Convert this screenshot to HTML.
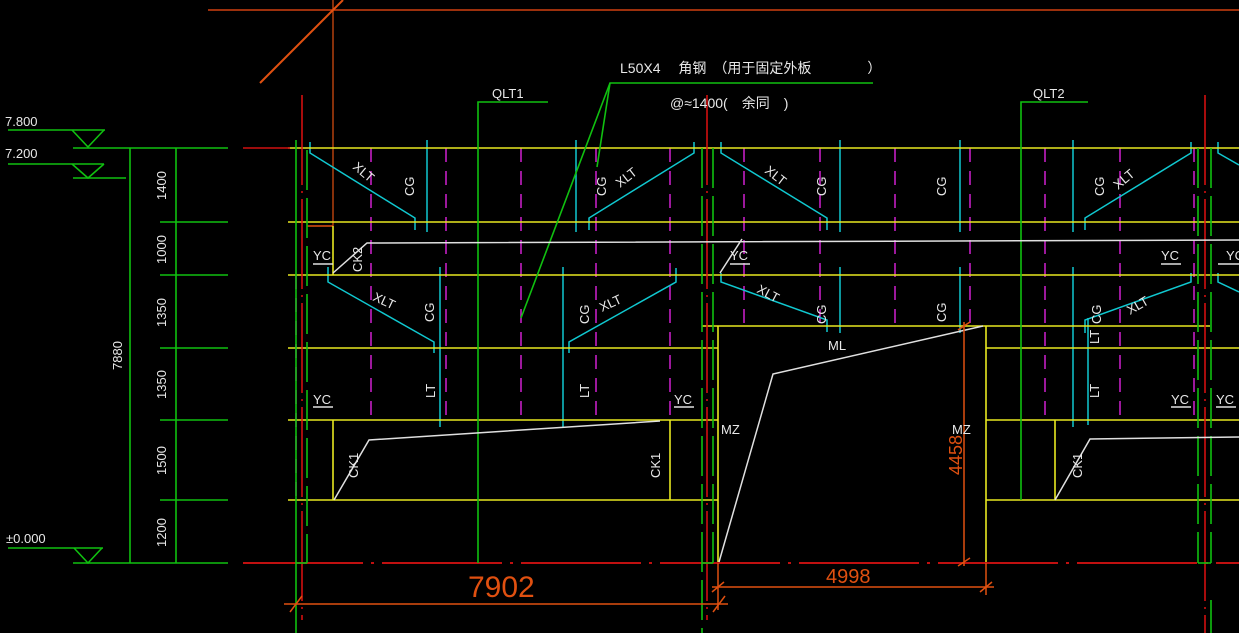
<!DOCTYPE html>
<html><head><meta charset="utf-8"><style>
html,body{margin:0;padding:0;background:#000;width:1239px;height:633px;overflow:hidden}
svg{display:block}
text{font-family:"Liberation Sans","Noto Sans CJK SC",sans-serif;fill:#e8e8e8;font-size:13px}
</style></head><body>
<svg width="1239" height="633" viewBox="0 0 1239 633" xmlns="http://www.w3.org/2000/svg">
<rect width="1239" height="633" fill="#000"/>
<!-- top orange -->
<line x1="208" y1="10" x2="1239" y2="10" stroke="#d04010" stroke-width="1.5"/>
<line x1="260" y1="83" x2="343" y2="0" stroke="#e05010" stroke-width="2"/>
<line x1="333" y1="0" x2="333" y2="226" stroke="#e05010" stroke-width="1.2"/>
<line x1="307" y1="226" x2="333" y2="226" stroke="#e05010" stroke-width="1.5"/>

<!-- magenta dashed -->
<g stroke="#d020d0" stroke-width="1.5" stroke-dasharray="14,9">
<line x1="371" y1="148" x2="371" y2="420"/><line x1="446" y1="148" x2="446" y2="420"/>
<line x1="521" y1="148" x2="521" y2="420"/><line x1="596" y1="148" x2="596" y2="420"/>
<line x1="670" y1="148" x2="670" y2="420"/>
<line x1="744" y1="148" x2="744" y2="326"/><line x1="820" y1="148" x2="820" y2="326"/>
<line x1="895" y1="148" x2="895" y2="326"/><line x1="970" y1="148" x2="970" y2="326"/>
<line x1="1045" y1="148" x2="1045" y2="420"/><line x1="1120" y1="148" x2="1120" y2="420"/>
<line x1="1194" y1="148" x2="1194" y2="420"/>
<line x1="296" y1="275" x2="296" y2="500"/>
</g>

<!-- cyan -->
<g stroke="#10c8d0" stroke-width="1.5" fill="none">
<line x1="427" y1="140" x2="427" y2="232"/><line x1="576" y1="140" x2="576" y2="232"/>
<line x1="440" y1="267" x2="440" y2="427"/><line x1="563" y1="267" x2="563" y2="427"/>
<line x1="840" y1="140" x2="840" y2="232"/><line x1="960" y1="140" x2="960" y2="232"/><line x1="1073" y1="140" x2="1073" y2="232"/>
<line x1="840" y1="267" x2="840" y2="333"/><line x1="960" y1="267" x2="960" y2="333"/><line x1="1073" y1="267" x2="1073" y2="427"/>
<polyline points="310,142 310,153 415,218 415,230"/>
<polyline points="694,142 694,153 589,218 589,230"/>
<polyline points="328,267 328,282 434,342 434,353"/>
<polyline points="676,268 676,282 569,342 569,353"/>
<polyline points="721,142 721,153 827,218 827,230"/>
<polyline points="1191,142 1191,153 1085,218 1085,230"/>
<polyline points="721,273 721,282 827,320 827,332"/>
<polyline points="1191,273 1191,282 1085,320 1085,333"/>
<polyline points="1218,142 1218,153 1239,165"/>
<polyline points="1218,273 1218,282 1239,292"/>
<line x1="1088" y1="318" x2="1088" y2="425"/>
</g>

<!-- yellow -->
<g stroke="#e8e820" stroke-width="1.6" fill="none">
<line x1="288" y1="148" x2="1239" y2="148"/>
<line x1="288" y1="222" x2="1239" y2="222"/>
<line x1="288" y1="275" x2="1239" y2="275"/>
<line x1="288" y1="348" x2="718" y2="348"/><line x1="986" y1="348" x2="1239" y2="348"/>
<line x1="702" y1="326" x2="1210" y2="326"/>
<line x1="288" y1="420" x2="718" y2="420"/><line x1="986" y1="420" x2="1239" y2="420"/>
<line x1="288" y1="500" x2="718" y2="500"/><line x1="986" y1="500" x2="1239" y2="500"/>
<line x1="718" y1="326" x2="718" y2="563"/><line x1="986" y1="326" x2="986" y2="563"/>
<line x1="333" y1="420" x2="333" y2="500"/><line x1="670" y1="420" x2="670" y2="500"/>
<line x1="1055" y1="420" x2="1055" y2="500"/>
<line x1="333" y1="226" x2="333" y2="275"/>
</g>

<!-- red -->
<line x1="243" y1="148" x2="290" y2="148" stroke="#d01010" stroke-width="1.5"/>
<line x1="243" y1="563" x2="1239" y2="563" stroke="#c01010" stroke-width="2" stroke-dasharray="120,8,3,8"/>
<g stroke="#e01010" stroke-width="1.5" stroke-dasharray="90,6,2,6">
<line x1="302" y1="95" x2="302" y2="620"/><line x1="707" y1="95" x2="707" y2="620"/><line x1="1205" y1="95" x2="1205" y2="633"/>
</g>

<!-- green verticals -->
<g stroke="#10c010" stroke-width="1.6" fill="none">
<line x1="296" y1="140" x2="296" y2="633"/>
<line x1="307" y1="150" x2="307" y2="563" stroke-dasharray="40,8"/>
<line x1="702" y1="148" x2="702" y2="633" stroke-dasharray="40,8"/>
<line x1="713" y1="148" x2="713" y2="563" stroke-dasharray="40,8"/>
<line x1="1198" y1="148" x2="1198" y2="563" stroke-dasharray="40,8"/>
<line x1="1211" y1="148" x2="1211" y2="563" stroke-dasharray="40,8"/>
<line x1="296" y1="563" x2="307" y2="563"/><line x1="702" y1="563" x2="713" y2="563"/><line x1="1198" y1="563" x2="1211" y2="563"/>
<line x1="1211" y1="600" x2="1211" y2="633"/>
<polyline points="478,563 478,102 548,102"/>
<polyline points="1021,500 1021,102 1088,102"/>
<polyline points="873,83 610,83 521,318"/>
<line x1="610" y1="83" x2="597" y2="167"/>
<!-- dim column -->
<line x1="130" y1="148" x2="130" y2="563"/>
<line x1="176" y1="148" x2="176" y2="563"/>
<line x1="73" y1="148" x2="228" y2="148"/>
<line x1="160" y1="222" x2="228" y2="222"/><line x1="160" y1="275" x2="228" y2="275"/>
<line x1="160" y1="348" x2="228" y2="348"/><line x1="160" y1="420" x2="228" y2="420"/>
<line x1="160" y1="500" x2="228" y2="500"/>
<line x1="73" y1="563" x2="228" y2="563"/>
<line x1="8" y1="130" x2="105" y2="130"/><polyline points="72,130 88,147 104,130"/>
<line x1="8" y1="164" x2="104" y2="164"/><polyline points="72,164 88,178 104,164"/>
<line x1="73" y1="178" x2="126" y2="178"/>
<line x1="8" y1="548" x2="103" y2="548"/><polyline points="74,548 88,563 102,548"/>
</g>

<!-- white -->
<g stroke="#e0e0e0" stroke-width="1.5" fill="none">
<polyline points="333,273 367,243 1239,240"/>
<polyline points="720,273 742,239"/>
<polyline points="334,500 369,440 660,421"/>
<polyline points="1055,500 1090,439 1239,437"/>
<polyline points="719,562 773,374 983,326"/>
<line x1="313" y1="407" x2="333" y2="407"/><line x1="313" y1="264" x2="333" y2="264"/>
<line x1="674" y1="407" x2="694" y2="407"/><line x1="730" y1="264" x2="750" y2="264"/>
<line x1="1161" y1="264" x2="1181" y2="264"/><line x1="1171" y1="407" x2="1191" y2="407"/>
<line x1="1218" y1="264" x2="1239" y2="264"/><line x1="1216" y1="407" x2="1236" y2="407"/>
</g>

<!-- orange dims -->
<g stroke="#e05010" stroke-width="1.5" fill="none">
<line x1="284" y1="604" x2="728" y2="604"/>
<line x1="290" y1="612" x2="302" y2="596"/><line x1="713" y1="612" x2="725" y2="596"/>
<line x1="712" y1="587" x2="994" y2="587"/>
<line x1="712" y1="592" x2="724" y2="582"/><line x1="980" y1="592" x2="992" y2="582"/>
<line x1="718" y1="563" x2="718" y2="610"/><line x1="986" y1="563" x2="986" y2="595"/>
<line x1="964" y1="322" x2="964" y2="566"/>
<line x1="958" y1="330" x2="970" y2="322"/><line x1="958" y1="566" x2="970" y2="558"/>
</g>
<text x="468" y="597" style="font-size:30px;fill:#e05010">7902</text>
<text x="826" y="583" style="font-size:20px;fill:#e05010">4998</text>
<text transform="translate(962,475) rotate(-90)" style="font-size:18px;fill:#e05010">4458</text>

<!-- labels -->
<text x="5" y="126" style="font-size:13px">7.800</text>
<text x="5" y="158" style="font-size:13px">7.200</text>
<text x="6" y="543" style="font-size:13px">±0.000</text>
<g style="font-size:12px">
<text transform="translate(166,200) rotate(-90)">1400</text>
<text transform="translate(166,264) rotate(-90)">1000</text>
<text transform="translate(166,327) rotate(-90)">1350</text>
<text transform="translate(166,399) rotate(-90)">1350</text>
<text transform="translate(166,475) rotate(-90)">1500</text>
<text transform="translate(166,547) rotate(-90)">1200</text>
<text transform="translate(122,370) rotate(-90)">7880</text>
</g>
<text x="620" y="73" style="font-size:14px">L50X4　 角钢　（用于固定外板　　　　）</text>
<text x="670" y="108" style="font-size:14px">@≈1400(　余同　)</text>
<text x="492" y="98" style="font-size:13px">QLT1</text>
<text x="1033" y="98" style="font-size:13px">QLT2</text>
<g style="font-size:14px">
<text x="313" y="260">YC</text><text x="313" y="404">YC</text><text x="674" y="404">YC</text>
<text x="730" y="260">YC</text><text x="1161" y="260">YC</text><text x="1171" y="404">YC</text>
<text x="1226" y="260">YC</text><text x="1216" y="404">YC</text>
<text x="721" y="434">MZ</text><text x="952" y="434">MZ</text>
<text x="828" y="350">ML</text>
</g>
<g style="font-size:14px">
<text transform="translate(414,196) rotate(-90)">CG</text>
<text transform="translate(606,196) rotate(-90)">CG</text>
<text transform="translate(826,196) rotate(-90)">CG</text>
<text transform="translate(946,196) rotate(-90)">CG</text>
<text transform="translate(1104,196) rotate(-90)">CG</text>
<text transform="translate(434,322) rotate(-90)">CG</text>
<text transform="translate(589,324) rotate(-90)">CG</text>
<text transform="translate(826,324) rotate(-90)">CG</text>
<text transform="translate(946,322) rotate(-90)">CG</text>
<text transform="translate(1101,324) rotate(-90)">CG</text>
<text transform="translate(435,398) rotate(-90)">LT</text>
<text transform="translate(589,398) rotate(-90)">LT</text>
<text transform="translate(1099,398) rotate(-90)">LT</text>
<text transform="translate(1099,344) rotate(-90)">LT</text>
<text transform="translate(362,272) rotate(-90)">CK2</text>
<text transform="translate(358,478) rotate(-90)">CK1</text>
<text transform="translate(660,478) rotate(-90)">CK1</text>
<text transform="translate(1082,478) rotate(-90)">CK1</text>
<text transform="translate(352,168) rotate(40)">XLT</text>
<text transform="translate(620,188) rotate(-38)">XLT</text>
<text transform="translate(764,172) rotate(38)">XLT</text>
<text transform="translate(1118,190) rotate(-40)">XLT</text>
<text transform="translate(372,300) rotate(25)">XLT</text>
<text transform="translate(602,312) rotate(-25)">XLT</text>
<text transform="translate(756,292) rotate(28)">XLT</text>
<text transform="translate(1130,315) rotate(-30)">XLT</text>
</g>
</svg>
</body></html>
